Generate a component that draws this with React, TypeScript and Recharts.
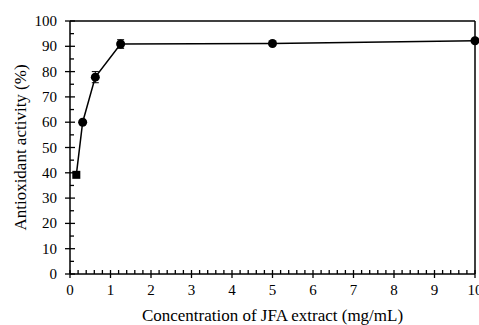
import React from "react";
import { ComposedChart, Line, Scatter, XAxis, YAxis, ErrorBar, ReferenceLine, Label } from "recharts";

const concentrations = [0.156, 0.3125, 0.625, 1.25, 5, 10];
const activity = [39.2, 60.0, 77.8, 90.9, 91.1, 92.2];
const errors = [0.4, 0.5, 2.2, 1.7, 0.4, 0.5];
const xMajorTicks = [0, 1, 2, 3, 4, 5, 6, 7, 8, 9, 10];
const yMajorTicks = [0, 10, 20, 30, 40, 50, 60, 70, 80, 90, 100];

const xTicks = Array.from({ length: 51 }, (_, i) => Math.round(i * 2) / 10);
const yTicks = Array.from({ length: 21 }, (_, i) => i * 5);

const data = concentrations.map((c, i) => ({ x: c, y: activity[i], err: errors[i] }));

const FONT = "'Liberation Serif', 'Times New Roman', Times, serif";

const XTick = (props: any) => {
  const { x, y, payload } = props;
  const v = payload.value;
  const major = xMajorTicks.some((m) => Math.abs(m - v) < 1e-6);
  return (
    <g>
      {major ? (
        <line x1={x} x2={x} y1={y - 4} y2={y + 4} stroke="#000" strokeWidth={1.3} />
      ) : (
        <line x1={x} x2={x} y1={y - 4} y2={y} stroke="#000" strokeWidth={1.3} />
      )}
      {major && (
        <text x={x} y={y + 21} textAnchor="middle" fontFamily={FONT} fontSize={15} fill="#000">
          {Math.round(v)}
        </text>
      )}
    </g>
  );
};

const YTick = (props: any) => {
  const { x, y, payload } = props;
  const v = payload.value;
  const major = yMajorTicks.includes(v);
  return (
    <g>
      {major ? (
        <line x1={x - 5} x2={x + 5} y1={y} y2={y} stroke="#000" strokeWidth={1.3} />
      ) : (
        <line x1={x} x2={x + 4} y1={y} y2={y} stroke="#000" strokeWidth={1.3} />
      )}
      {major && (
        <text x={x - 13} y={y + 5} textAnchor="end" fontFamily={FONT} fontSize={15} fill="#000">
          {v}
        </text>
      )}
    </g>
  );
};

const Marker = (props: any) => {
  const { cx, cy, index } = props;
  if (index === 0) {
    return <rect x={cx - 4} y={cy - 4} width={8} height={8} fill="#000" />;
  }
  return <circle cx={cx} cy={cy} r={4.5} fill="#000" />;
};

export default function App() {
  return (
    <div style={{ position: "absolute", left: 0, top: 0, width: 479, height: 325, fontFamily: FONT }}>
      <ComposedChart width={479} height={325} data={data} margin={{ top: 21, right: 4, left: 10, bottom: 0 }}>
        <XAxis
          dataKey="x"
          type="number"
          domain={[0, 10]}
          ticks={xTicks}
          interval={0}
          tickSize={0}
          tickMargin={0}
          tickLine={false}
          tick={<XTick />}
          axisLine={{ stroke: "#000", strokeWidth: 1.5 }}
          height={51}
        >
          <Label
            value="Concentration of JFA extract (mg/mL)"
            position="insideBottom"
            offset={4}
            fontFamily={FONT}
            fontSize={17}
            fill="#000"
          />
        </XAxis>
        <YAxis
          type="number"
          domain={[0, 100]}
          ticks={yTicks}
          interval={0}
          tickSize={0}
          tickMargin={0}
          tickLine={false}
          tick={<YTick />}
          axisLine={{ stroke: "#000", strokeWidth: 1.5 }}
          width={60}
        >
          <Label
            value="Antioxidant activity (%)"
            angle={-90}
            position="insideLeft"
            offset={10}
            fontFamily={FONT}
            fontSize={17}
            fill="#000"
            style={{ textAnchor: "middle" }}
          />
        </YAxis>
        <ReferenceLine y={100} stroke="#000" strokeWidth={1.5} ifOverflow="visible" />
        <ReferenceLine x={10} stroke="#000" strokeWidth={1.5} ifOverflow="visible" />
        <Line
          dataKey="y"
          stroke="#000"
          strokeWidth={1.5}
          dot={false}
          activeDot={false}
          isAnimationActive={false}
        >
          <ErrorBar dataKey="err" width={3.5} stroke="#000" strokeWidth={1} direction="y" />
        </Line>
        <Scatter dataKey="y" shape={<Marker />} isAnimationActive={false} />
      </ComposedChart>
    </div>
  );
}
